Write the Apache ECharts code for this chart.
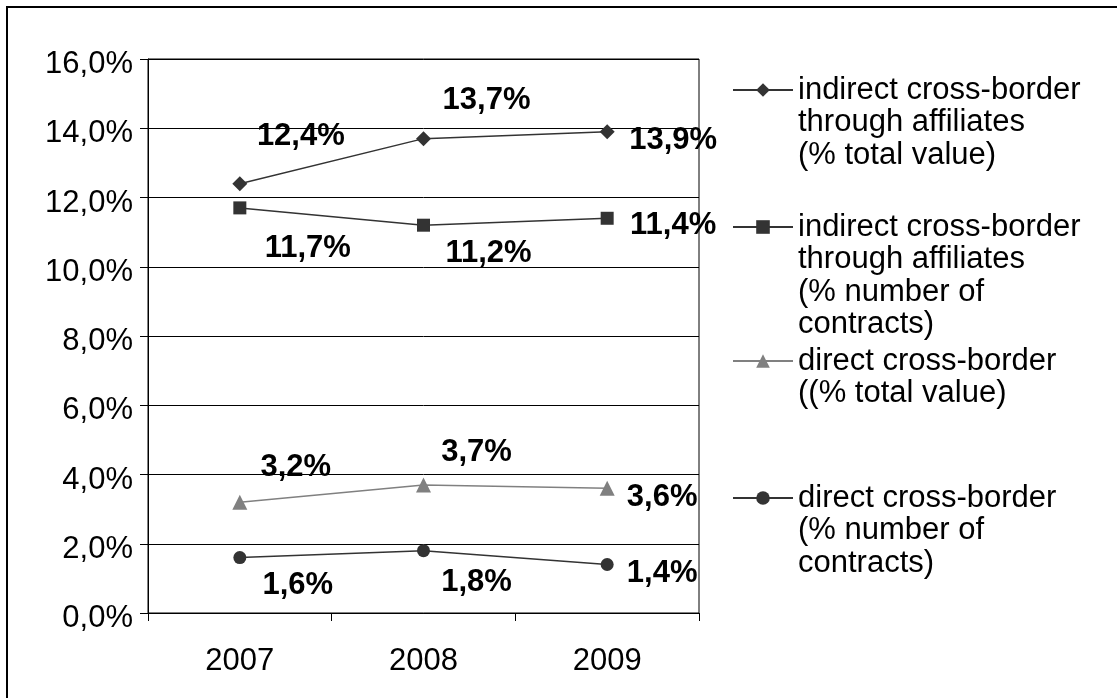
<!DOCTYPE html>
<html>
<head>
<meta charset="utf-8">
<script src="https://cdn.jsdelivr.net/npm/echarts@6/dist/echarts.min.js"></script>
<style>
html,body{margin:0;padding:0;background:#fff;}
#chart{width:1117px;height:698px;}
</style>
</head>
<body>
<div id="chart"></div>
<script>
// ---- data ----
const categories = ['2007', '2008', '2009'];
const indirectTotalValue = [12.4, 13.7, 13.9];
const indirectContracts = [11.7, 11.2, 11.4];
const directTotalValue = [3.2, 3.7, 3.6];
const directContracts = [1.6, 1.8, 1.4];
const seriesNames = [
  'indirect cross-border\nthrough affiliates\n(% total value)',
  'indirect cross-border\nthrough affiliates\n(% number of\ncontracts)',
  'direct cross-border\n((% total value)',
  'direct cross-border\n(% number of\ncontracts)'
];

// ---- layout (not data) ----
const FONT = 'Liberation Sans, Arial, sans-serif';
const FS = 31;
const LH = 32.5;
const labelOffsets = [
  [[61, -47], [63, -38], [66, 9]],
  [[68, 41], [65, 28], [66, 7]],
  [[56, -35], [53, -32], [55, 9]],
  [[58, 28], [53, 32], [55, 9]]
];
const legendIconCenters = [87, 224, 358, 495];
const styles = [
  {symbol: 'diamond', size: 15, color: '#333333'},
  {symbol: 'rect', size: 13, color: '#333333'},
  {symbol: 'triangle', size: 15, color: '#808080'},
  {symbol: 'circle', size: 13, color: '#333333'}
];
const allValues = [indirectTotalValue, indirectContracts, directTotalValue, directContracts];

const fmt = v => v.toFixed(1).replace('.', ',') + '%';

const series = allValues.map((vals, si) => ({
  name: seriesNames[si],
  type: 'line',
  symbol: styles[si].symbol,
  symbolSize: styles[si].size,
  itemStyle: {color: styles[si].color},
  lineStyle: {color: styles[si].color, width: 1.5},
  animation: false,
  data: vals.map((v, i) => ({
    value: v,
    label: {offset: labelOffsets[si][i]}
  })),
  label: {
    show: true,
    position: 'inside',
    formatter: p => fmt(p.value),
    color: '#000',
    fontFamily: FONT,
    fontSize: FS,
    fontWeight: 'bold'
  }
}));

const ITEM_H = 17;
const legends = seriesNames.map((name, i) => {
  const n = name.split('\n').length;
  const top = legendIconCenters[i] - (2 * n - 1) * LH / 2;
  return {
    data: [name],
    orient: 'vertical',
    left: 732,
    top: top,
    padding: 0,
    itemWidth: 60,
    itemHeight: ITEM_H,
    selectedMode: false,
    formatter: nm => '\n'.repeat(n - 1) + nm,
    textStyle: {fontFamily: FONT, fontSize: FS, lineHeight: LH, color: '#000', padding: [6, 0, 0, 0]}
  };
});

const chart = echarts.init(document.getElementById('chart'), null, {renderer: 'canvas'});
chart.setOption({
  animation: false,
  backgroundColor: '#fff',
  grid: {
    left: 148, top: 59, right: 418, bottom: 85,
    show: true, borderColor: '#000', borderWidth: 1, backgroundColor: 'transparent'
  },
  legend: legends,
  xAxis: {
    type: 'category',
    data: categories,
    boundaryGap: true,
    axisLine: {lineStyle: {color: '#000', width: 1}},
    axisTick: {show: true, length: 8, lineStyle: {color: '#000'}},
    axisLabel: {color: '#000', fontFamily: FONT, fontSize: FS, margin: 33}
  },
  yAxis: {
    type: 'value',
    min: 0, max: 16, interval: 2,
    axisLine: {show: true, lineStyle: {color: '#000', width: 1}},
    axisTick: {show: true, length: 8, lineStyle: {color: '#000'}},
    splitLine: {show: true, lineStyle: {color: '#000', width: 1}},
    axisLabel: {
      color: '#000', fontFamily: FONT, fontSize: FS, margin: 15,
      formatter: v => '{s|}\n{t|' + fmt(v) + '}',
      rich: {
        s: {fontSize: 1, lineHeight: 11},
        t: {fontFamily: FONT, fontSize: FS, lineHeight: 31, color: '#000'}
      }
    }
  },
  graphic: [{
    type: 'rect',
    shape: {x: 7, y: 7, width: 1300, height: 900},
    style: {fill: 'none', stroke: '#000', lineWidth: 2},
    silent: true,
    z: -1
  }],
  series: series
});
</script>
</body>
</html>
